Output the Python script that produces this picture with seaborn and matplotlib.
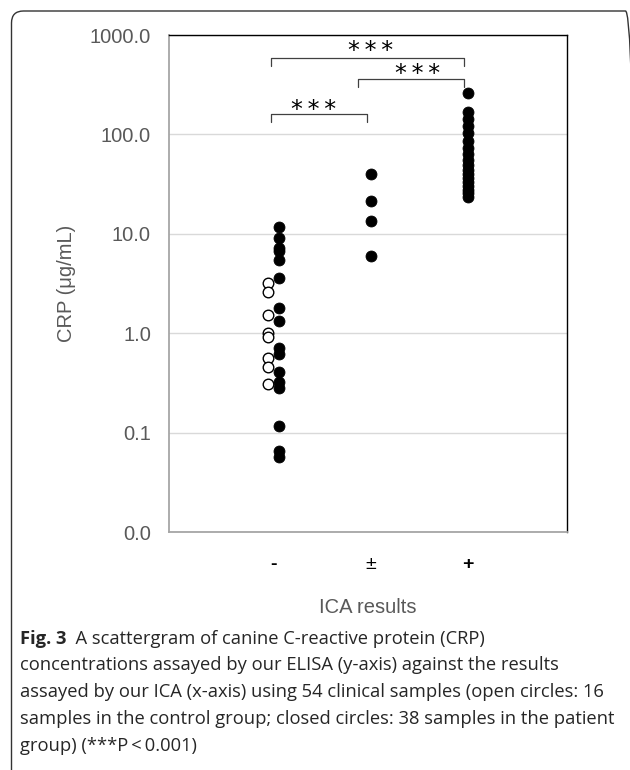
"""
Scattergram of canine CRP (ELISA) against ICA results.
"""

import matplotlib.pyplot as plt
import matplotlib.patches as mpatches
import matplotlib.ticker as mticker
import seaborn as sns
import pandas as pd
import numpy as np

sns.set_style("white")
plt.rcParams['font.family'] = ['Liberation Sans', 'DejaVu Sans']

# ICA result categories
categories = ['-', '\u00b1', '+']

# closed circles (patient group), CRP in ug/mL
neg_closed = [11.7, 9.1, 7.2, 6.7, 5.45, 3.6, 1.79, 1.33, 0.71, 0.62,
              0.41, 0.32, 0.28, 0.116, 0.065, 0.057]
equiv_closed = [40.0, 21.4, 13.5, 6.0]
pos_closed = [261, 168, 143, 121, 103, 86, 73, 63.5, 55.3, 49.2,
              43.8, 40.0, 36.4, 33.2, 30.3, 27.6, 25.7, 23.5]

# open circles (control group), all ICA negative
neg_open = [3.2, 2.6, 1.52, 1.0, 0.92, 0.56, 0.46, 0.31]

# significance brackets: (left cat, right cat, level, foot)
brackets = [(0, 1, 160, 133), (1, 2, 361, 300), (0, 2, 587, 488)]

GRAY = '#595959'


def build_frame():
    rows = []
    for vals, cat, group in [(neg_closed, 0, 'patient'), (equiv_closed, 1, 'patient'),
                             (pos_closed, 2, 'patient'), (neg_open, 0, 'control')]:
        for v in vals:
            rows.append({'ica': cat, 'crp': v, 'group': group})
    df = pd.DataFrame(rows)
    # small side shift in the '-' column so open and closed circles sit apart
    shift = np.where(df['ica'] == 0, np.where(df['group'] == 'control', -0.055, 0.06), 0.0)
    df['xpos'] = df['ica'] + shift
    return df


df = build_frame()

fig = plt.figure(figsize=(6.3, 7.7), dpi=100)
ax = fig.add_axes([0.2683, 0.309, 0.6317, 0.6455])

sns.scatterplot(data=df[df['group'] == 'patient'], x='xpos', y='crp', ax=ax,
                color='black', edgecolor='black', s=62, linewidth=0.6, zorder=3)
sns.scatterplot(data=df[df['group'] == 'control'], x='xpos', y='crp', ax=ax,
                facecolor='white', edgecolor='black', s=58, linewidth=1.0, zorder=2)

ax.set_yscale('log')
ax.set_ylim(0.01, 1000)
ax.set_xlim(-1.067, 3.015)
ax.yaxis.set_major_locator(mticker.LogLocator(base=10, numticks=10))
ax.yaxis.set_minor_locator(mticker.NullLocator())
ax.yaxis.set_major_formatter(mticker.FuncFormatter(lambda v, p: f'{v:.1f}'))
ax.set_xticks(range(len(categories)))
ax.set_xticklabels(categories)
for lab, w in zip(ax.get_xticklabels(), ['bold', 'normal', 'bold']):
    lab.set_fontweight(w)
ax.tick_params(axis='y', length=0, labelsize=14.5, labelcolor=GRAY, pad=13)
ax.tick_params(axis='x', length=0, labelsize=14, labelcolor='black', pad=17)

ax.grid(axis='y', color='#d9d9d9', linewidth=1.0)
ax.set_axisbelow(True)
for side in ['left', 'bottom']:
    ax.spines[side].set_color('#a6a6a6')
    ax.spines[side].set_linewidth(1.3)
for side in ['top', 'right']:
    ax.spines[side].set_color('black')
    ax.spines[side].set_linewidth(1.0)

ax.set_xlabel('')
ax.set_ylabel('CRP (\u03bcg/mL)', fontsize=14.5, color=GRAY, labelpad=10)
fig.text(0.583, 0.211, 'ICA results', fontsize=14.5, color=GRAY, ha='center', va='center')

# significance brackets
for x0, x1, top, foot in brackets:
    lx0 = x0 - 0.02 if x0 == 0 else x0 - 0.13
    lx1 = x1 - 0.04
    ax.plot([lx0, lx0, lx1, lx1], [foot, top, top, foot], color='#404040',
            linewidth=0.9, clip_on=False, zorder=4)
star_pos = [(0.42, 178), (1.48, 402), (1.0, 690)]
for sx, sy in star_pos:
    ax.text(sx, sy, '*\u2009*\u2009*', ha='center', va='center', fontsize=17,
            family='DejaVu Sans', color='black')

# caption
cap_lines = ['concentrations assayed by our ELISA (y-axis) against the results',
             'assayed by our ICA (x-axis) using 54 clinical samples (open circles: 16',
             'samples in the control group; closed circles: 38 samples in the patient',
             'group) (***P\u2009<\u20090.001)']
cap_font = ['Open Sans', 'DejaVu Sans']
cap_size = 13.2
t0 = fig.text(0.031, 1 - 639 / 770, 'Fig. 3', fontsize=cap_size, fontweight='bold',
              family=cap_font, va='center', ha='left')
ax.annotate('  A scattergram of canine C-reactive protein (CRP)', xy=(1, 0.5),
            xycoords=t0, va='center', ha='left', fontsize=cap_size, family=cap_font)
for i, line in enumerate(cap_lines):
    fig.text(0.031, 1 - (665.5 + 26.7 * i) / 770, line, fontsize=cap_size,
             family=cap_font, va='center', ha='left')

# rounded frame round the figure, right side runs off the canvas
frame = mpatches.FancyBboxPatch((0.115, -0.5), 6.26, 8.09,
                                boxstyle='round,pad=0,rounding_size=0.12',
                                transform=fig.dpi_scale_trans, facecolor='none',
                                edgecolor='#333333', linewidth=1.0)
fig.patches.append(frame)

fig.savefig('out.png', dpi=100)
